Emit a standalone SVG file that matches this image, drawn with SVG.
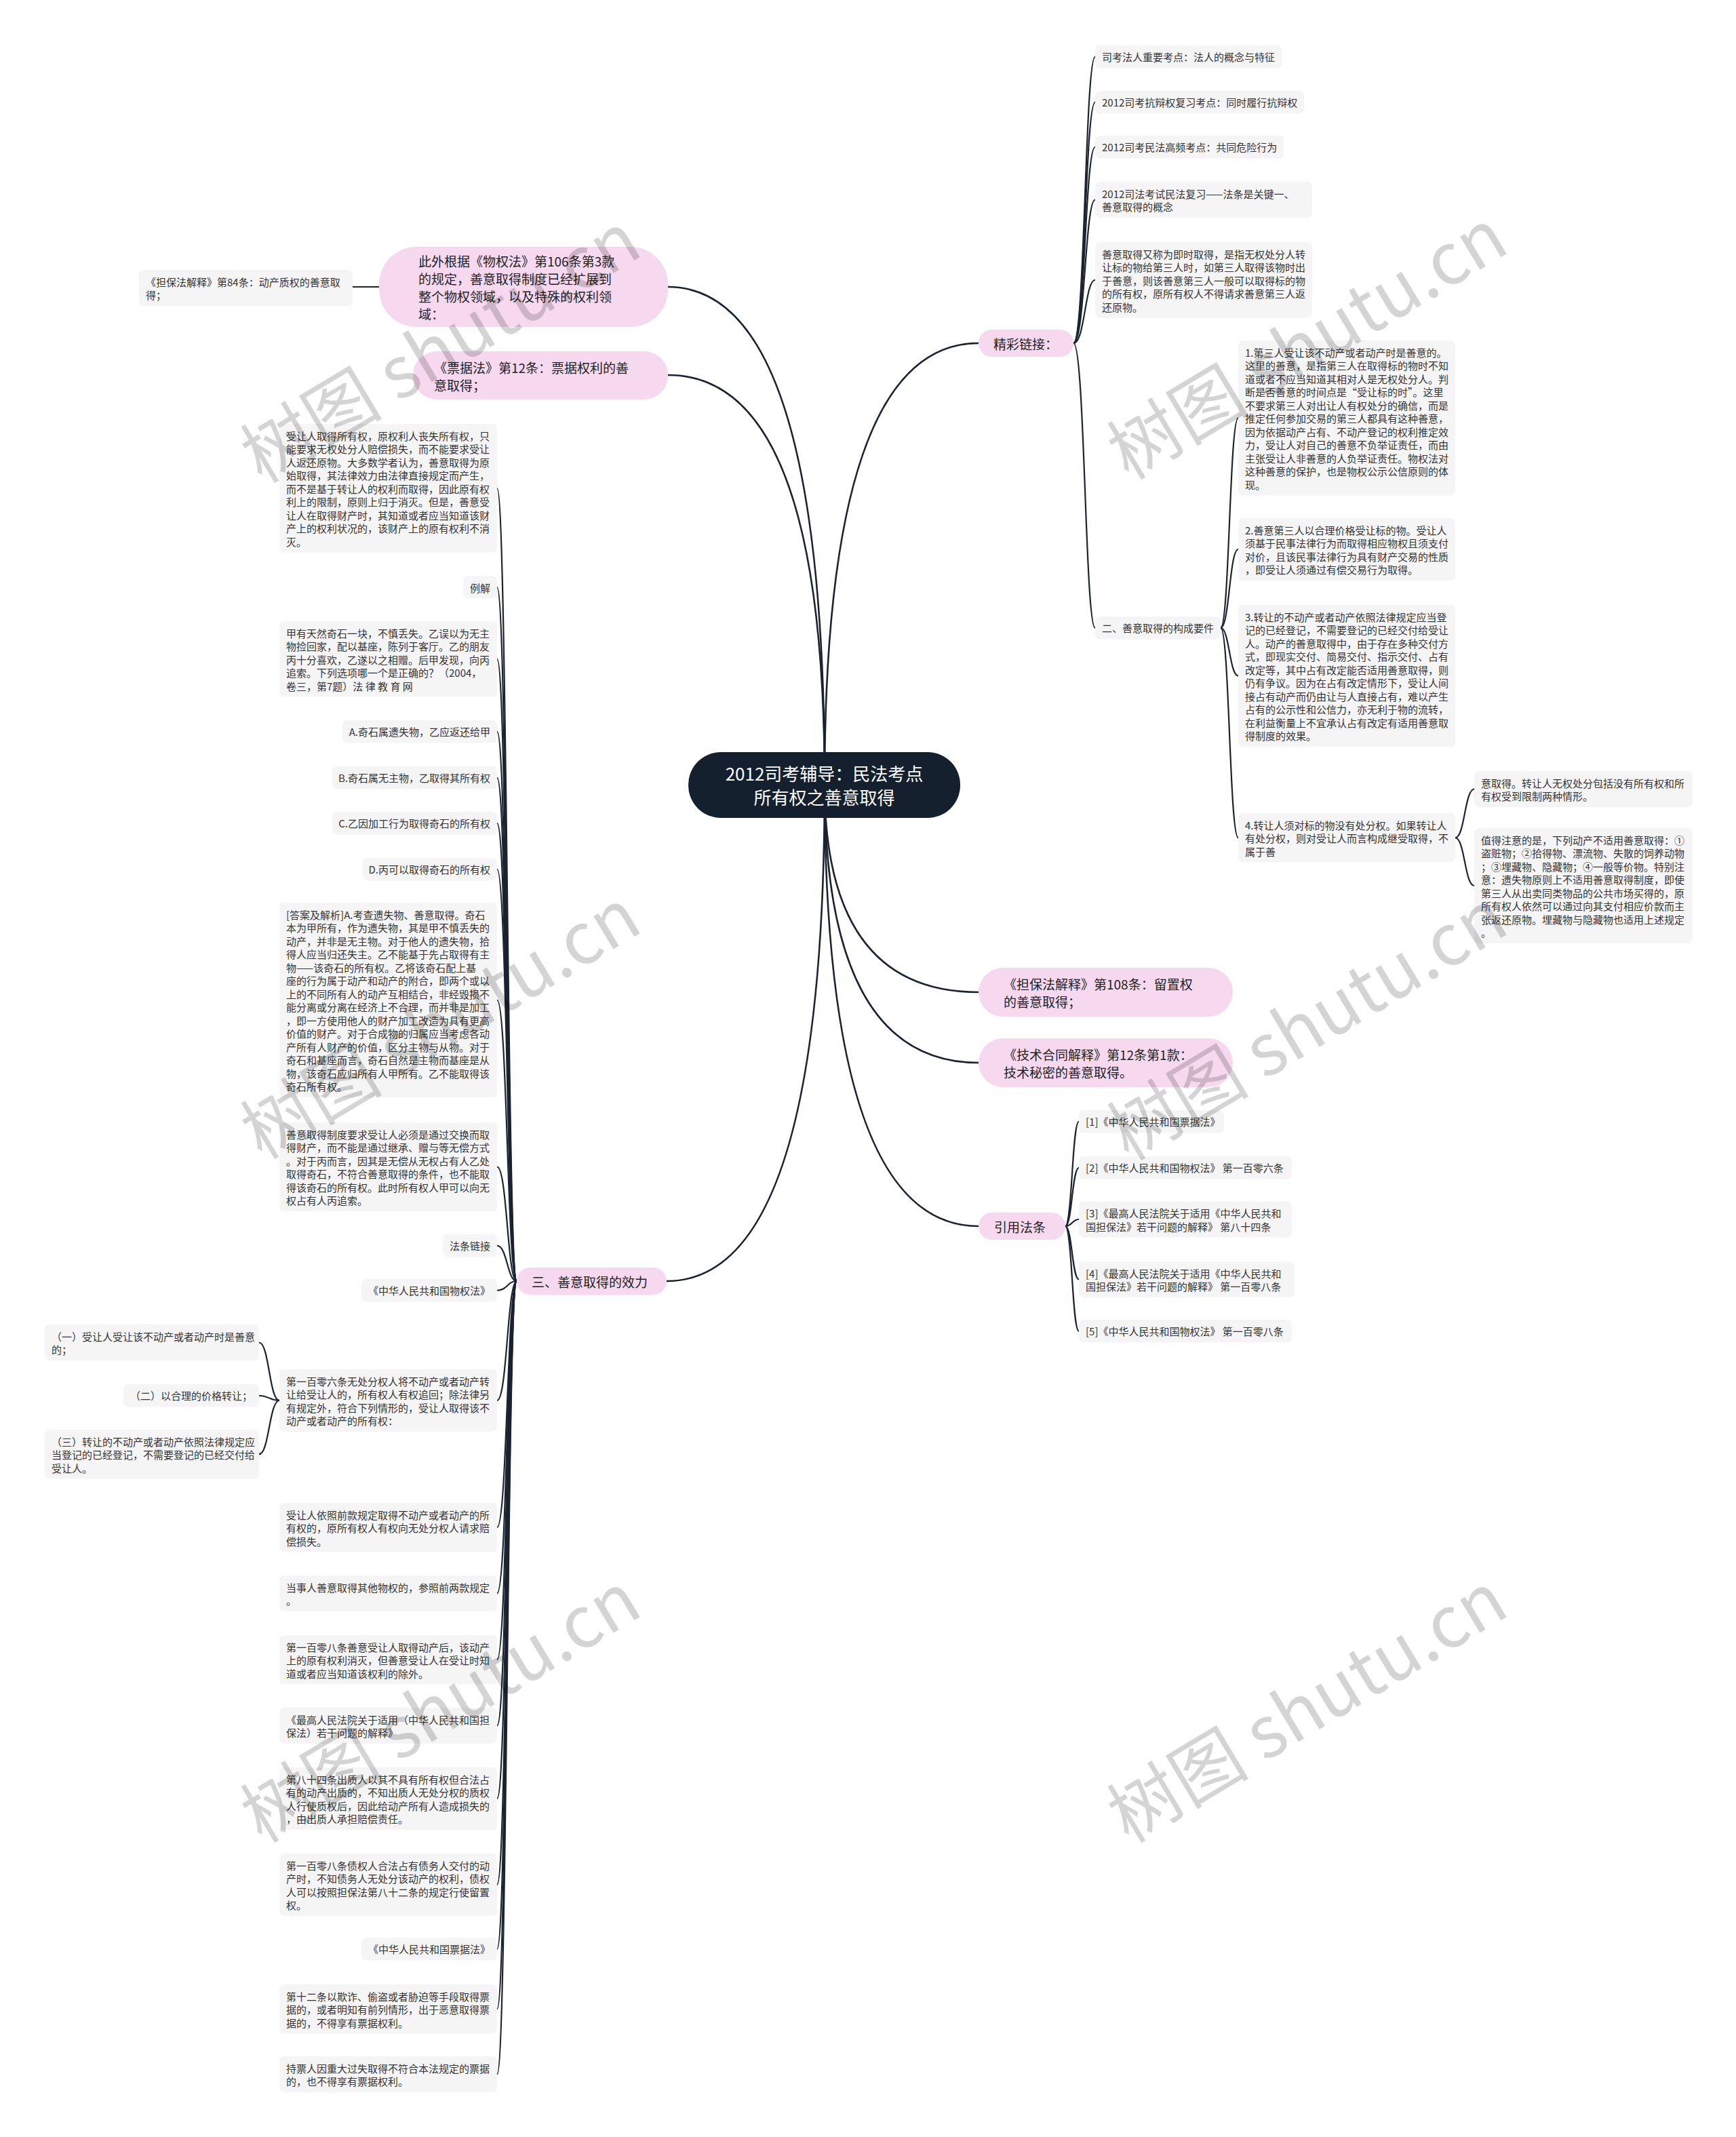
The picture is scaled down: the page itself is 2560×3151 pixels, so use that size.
<svg xmlns="http://www.w3.org/2000/svg" width="2560" height="3151" viewBox="0 0 2560 3151">
<style>
.c{fill:none;stroke:#1b2330;stroke-width:2.2}
.m{fill:none;stroke:#1b2330;stroke-width:2.6}
.b{fill:#f5f5f5}
.p{fill:#f6d9ef}
text{font-family:"Noto Sans CJK SC","Noto Sans",sans-serif;dominant-baseline:central}
.t{font-size:15px;fill:#333}
.r{text-anchor:end}
.pt{font-size:19px;fill:#222}
.ct{font-size:26px;fill:#fff;text-anchor:middle}
.wm{font-size:105px;fill:#000;fill-opacity:0.17;text-anchor:middle}
</style>
<rect width="2560" height="3151" fill="#fff"/>
<g id="connectors">
<path class="m" d="M1216 1156 Q1216 506 1443 506"/>
<path class="m" d="M1216 1156 Q1216 423 985 423"/>
<path class="m" d="M1216 1156 Q1216 553 985 553"/>
<path class="m" d="M1216 1156 Q1216 1463 1443 1463"/>
<path class="m" d="M1216 1156 Q1216 1567 1443 1567"/>
<path class="m" d="M1216 1156 Q1216 1808 1443 1808"/>
<path class="m" d="M1216 1156 Q1216 1889 983 1889"/>
<path class="c" d="M520 423 L559 423"/>
<path class="c" d="M1583 506 C1600 506 1600 83.75 1615 83.75"/>
<path class="c" d="M1583 506 C1600 506 1600 150.75 1615 150.75"/>
<path class="c" d="M1583 506 C1600 506 1600 216.75 1615 216.75"/>
<path class="c" d="M1583 506 C1600 506 1600 294.5 1615 294.5"/>
<path class="c" d="M1583 506 C1600 506 1600 412.75 1615 412.75"/>
<path class="c" d="M1583 506 C1600 506 1600 925.75 1615 925.75"/>
<path class="c" d="M1800 925.75 C1813 925.75 1813 616.25 1826 616.25"/>
<path class="c" d="M1800 925.75 C1813 925.75 1813 810 1826 810"/>
<path class="c" d="M1800 925.75 C1813 925.75 1813 996.5 1826 996.5"/>
<path class="c" d="M1800 925.75 C1813 925.75 1813 1235.25 1826 1235.25"/>
<path class="c" d="M2146 1235.25 C2160 1235.25 2160 1163.5 2174 1163.5"/>
<path class="c" d="M2146 1235.25 C2160 1235.25 2160 1306 2174 1306"/>
<path class="c" d="M1571 1808 C1581 1808 1581 1653.75 1591 1653.75"/>
<path class="c" d="M1571 1808 C1581 1808 1581 1721.75 1591 1721.75"/>
<path class="c" d="M1571 1808 C1581 1808 1581 1798 1591 1798"/>
<path class="c" d="M1571 1808 C1581 1808 1581 1886.5 1591 1886.5"/>
<path class="c" d="M1571 1808 C1581 1808 1581 1962.75 1591 1962.75"/>
<path class="c" d="M762 1889 C748 1889 748 720 733 720"/>
<path class="c" d="M762 1889 C748 1889 748 866 733 866"/>
<path class="c" d="M762 1889 C748 1889 748 971.75 733 971.75"/>
<path class="c" d="M762 1889 C748 1889 748 1078.75 733 1078.75"/>
<path class="c" d="M762 1889 C748 1889 748 1146.75 733 1146.75"/>
<path class="c" d="M762 1889 C748 1889 748 1213.75 733 1213.75"/>
<path class="c" d="M762 1889 C748 1889 748 1281.75 733 1281.75"/>
<path class="c" d="M762 1889 C748 1889 748 1474.5 733 1474.5"/>
<path class="c" d="M762 1889 C748 1889 748 1720.5 733 1720.5"/>
<path class="c" d="M762 1889 C748 1889 748 1836.75 733 1836.75"/>
<path class="c" d="M762 1889 C748 1889 748 1902.75 733 1902.75"/>
<path class="c" d="M762 1889 C748 1889 748 2065 733 2065"/>
<path class="c" d="M762 1889 C748 1889 748 2252.25 733 2252.25"/>
<path class="c" d="M762 1889 C748 1889 748 2349.5 733 2349.5"/>
<path class="c" d="M762 1889 C748 1889 748 2447.25 733 2447.25"/>
<path class="c" d="M762 1889 C748 1889 748 2544.5 733 2544.5"/>
<path class="c" d="M762 1889 C748 1889 748 2652 733 2652"/>
<path class="c" d="M762 1889 C748 1889 748 2779 733 2779"/>
<path class="c" d="M762 1889 C748 1889 748 2873.75 733 2873.75"/>
<path class="c" d="M762 1889 C748 1889 748 2962.25 733 2962.25"/>
<path class="c" d="M762 1889 C748 1889 748 3058.5 733 3058.5"/>
<path class="c" d="M412 2065 C397 2065 397 1979.5 382 1979.5"/>
<path class="c" d="M412 2065 C397 2065 397 2057.75 382 2057.75"/>
<path class="c" d="M412 2065 C397 2065 397 2144.25 382 2144.25"/>
</g>

<g id="root">
<rect x="1015" y="1109" width="401" height="97" rx="48" fill="#14202e"/>
<text class="ct"><tspan x="1215.5" y="1139">2012司考辅导：民法考点</tspan><tspan x="1215.5" y="1174">所有权之善意取得</tspan></text>
</g>

<g id="n-jingcai">
<rect class="p" x="1443" y="486" width="140" height="40" rx="20"/>
<text class="pt" x="1465" y="506">精彩链接：</text>
</g>
<g id="n-r1"><rect class="b" x="1615" y="67" width="275" height="33.5" rx="7"/><text class="t" x="1625" y="83.75">司考法人重要考点：法人的概念与特征</text></g>
<g id="n-r2"><rect class="b" x="1615" y="134" width="308" height="33.5" rx="7"/><text class="t" x="1625" y="150.75">2012司考抗辩权复习考点：同时履行抗辩权</text></g>
<g id="n-r3"><rect class="b" x="1615" y="200" width="278" height="33.5" rx="7"/><text class="t" x="1625" y="216.75">2012司考民法高频考点：共同危险行为</text></g>
<g id="n-r4"><rect class="b" x="1615" y="268" width="320" height="53" rx="7"/><text class="t"><tspan x="1625" y="284.75">2012司法考试民法复习——法条是关键一、</tspan><tspan x="1625" y="304.25">善意取得的概念</tspan></text></g>
<g id="n-r5"><rect class="b" x="1615" y="357" width="320" height="111.5" rx="7"/><text class="t"><tspan x="1625" y="373.75">善意取得又称为即时取得，是指无权处分人转</tspan><tspan x="1625" y="393.25">让标的物给第三人时，如第三人取得该物时出</tspan><tspan x="1625" y="412.75">于善意，则该善意第三人一般可以取得标的物</tspan><tspan x="1625" y="432.25">的所有权，原所有权人不得请求善意第三人返</tspan><tspan x="1625" y="451.75">还原物。</tspan></text></g>
<g id="n-er"><rect class="b" x="1615" y="909" width="185" height="33.5" rx="7"/><text class="t" x="1625" y="925.75">二、善意取得的构成要件</text></g>
<g id="n-d1"><rect class="b" x="1826" y="502" width="320" height="228.5" rx="7"/><text class="t"><tspan x="1836" y="518.75">1.第三人受让该不动产或者动产时是善意的。</tspan><tspan x="1836" y="538.25">这里的善意，是指第三人在取得标的物时不知</tspan><tspan x="1836" y="557.75">道或者不应当知道其相对人是无权处分人。判</tspan><tspan x="1836" y="577.25">断是否善意的时间点是“受让标的时”。这里</tspan><tspan x="1836" y="596.75">不要求第三人对出让人有权处分的确信，而是</tspan><tspan x="1836" y="616.25">推定任何参加交易的第三人都具有这种善意，</tspan><tspan x="1836" y="635.75">因为依据动产占有、不动产登记的权利推定效</tspan><tspan x="1836" y="655.25">力，受让人对自己的善意不负举证责任，而由</tspan><tspan x="1836" y="674.75">主张受让人非善意的人负举证责任。物权法对</tspan><tspan x="1836" y="694.25">这种善意的保护，也是物权公示公信原则的体</tspan><tspan x="1836" y="713.75">现。</tspan></text></g>
<g id="n-d2"><rect class="b" x="1826" y="764" width="320" height="92" rx="7"/><text class="t"><tspan x="1836" y="780.75">2.善意第三人以合理价格受让标的物。受让人</tspan><tspan x="1836" y="800.25">须基于民事法律行为而取得相应物权且须支付</tspan><tspan x="1836" y="819.75">对价，且该民事法律行为具有财产交易的性质</tspan><tspan x="1836" y="839.25">，即受让人须通过有偿交易行为取得。</tspan></text></g>
<g id="n-d3"><rect class="b" x="1826" y="892" width="320" height="209" rx="7"/><text class="t"><tspan x="1836" y="908.75">3.转让的不动产或者动产依照法律规定应当登</tspan><tspan x="1836" y="928.25">记的已经登记，不需要登记的已经交付给受让</tspan><tspan x="1836" y="947.75">人。动产的善意取得中，由于存在多种交付方</tspan><tspan x="1836" y="967.25">式，即现实交付、简易交付、指示交付、占有</tspan><tspan x="1836" y="986.75">改定等，其中占有改定能否适用善意取得，则</tspan><tspan x="1836" y="1006.25">仍有争议。因为在占有改定情形下，受让人间</tspan><tspan x="1836" y="1025.75">接占有动产而仍由让与人直接占有，难以产生</tspan><tspan x="1836" y="1045.25">占有的公示性和公信力，亦无利于物的流转，</tspan><tspan x="1836" y="1064.75">在利益衡量上不宜承认占有改定有适用善意取</tspan><tspan x="1836" y="1084.25">得制度的效果。</tspan></text></g>
<g id="n-d4"><rect class="b" x="1826" y="1199" width="320" height="72.5" rx="7"/><text class="t"><tspan x="1836" y="1215.75">4.转让人须对标的物没有处分权。如果转让人</tspan><tspan x="1836" y="1235.25">有处分权，则对受让人而言构成继受取得，不</tspan><tspan x="1836" y="1254.75">属于善</tspan></text></g>
<g id="n-e1"><rect class="b" x="2174" y="1137" width="322" height="53" rx="7"/><text class="t"><tspan x="2184" y="1153.75">意取得。转让人无权处分包括没有所有权和所</tspan><tspan x="2184" y="1173.25">有权受到限制两种情形。</tspan></text></g>
<g id="n-e2"><rect class="b" x="2174" y="1221" width="322" height="170" rx="7"/><text class="t"><tspan x="2184" y="1237.75">值得注意的是，下列动产不适用善意取得：①</tspan><tspan x="2184" y="1257.25">盗赃物；②拾得物、漂流物、失散的饲养动物</tspan><tspan x="2184" y="1276.75">；③埋藏物、隐藏物；④一般等价物。特别注</tspan><tspan x="2184" y="1296.25">意：遗失物原则上不适用善意取得制度，即使</tspan><tspan x="2184" y="1315.75">第三人从出卖同类物品的公共市场买得的，原</tspan><tspan x="2184" y="1335.25">所有权人依然可以通过向其支付相应价款而主</tspan><tspan x="2184" y="1354.75">张返还原物。埋藏物与隐藏物也适用上述规定</tspan><tspan x="2184" y="1374.25">。</tspan></text></g>

<g id="n-108">
<rect class="p" x="1443" y="1427" width="375" height="72" rx="36"/>
<text class="pt"><tspan x="1480" y="1450">《担保法解释》第108条：留置权</tspan><tspan x="1480" y="1476">的善意取得；</tspan></text>
</g>
<g id="n-jishu">
<rect class="p" x="1443" y="1531" width="375" height="72" rx="36"/>
<text class="pt"><tspan x="1480" y="1554">《技术合同解释》第12条第1款：</tspan><tspan x="1480" y="1580">技术秘密的善意取得。</tspan></text>
</g>
<g id="n-yinyong">
<rect class="p" x="1443" y="1788" width="128" height="40" rx="20"/>
<text class="pt" x="1466" y="1808">引用法条</text>
</g>
<g id="n-f1"><rect class="b" x="1591" y="1637" width="214" height="33.5" rx="7"/><text class="t" x="1601" y="1653.75">[1]《中华人民共和国票据法》</text></g>
<g id="n-f2"><rect class="b" x="1591" y="1705" width="314" height="33.5" rx="7"/><text class="t" x="1601" y="1721.75">[2]《中华人民共和国物权法》 第一百零六条</text></g>
<g id="n-f3"><rect class="b" x="1591" y="1771.5" width="314" height="53" rx="7"/><text class="t"><tspan x="1601" y="1788.25">[3]《最高人民法院关于适用《中华人民共和</tspan><tspan x="1601" y="1807.75">国担保法》若干问题的解释》 第八十四条</tspan></text></g>
<g id="n-f4"><rect class="b" x="1591" y="1860" width="318" height="53" rx="7"/><text class="t"><tspan x="1601" y="1876.75">[4]《最高人民法院关于适用《中华人民共和</tspan><tspan x="1601" y="1896.25">国担保法》若干问题的解释》 第一百零八条</tspan></text></g>
<g id="n-f5"><rect class="b" x="1591" y="1946" width="314" height="33.5" rx="7"/><text class="t" x="1601" y="1962.75">[5]《中华人民共和国物权法》 第一百零八条</text></g>

<g id="n-ciwai">
<rect class="p" x="559" y="364" width="426" height="118" rx="55"/>
<text class="pt"><tspan x="617" y="384">此外根据《物权法》第106条第3款</tspan><tspan x="617" y="410">的规定，善意取得制度已经扩展到</tspan><tspan x="617" y="436">整个物权领域，以及特殊的权利领</tspan><tspan x="617" y="462">域：</tspan></text>
</g>
<g id="n-84"><rect class="b" x="205" y="398" width="315" height="53" rx="7"/><text class="t"><tspan x="215" y="414.75">《担保法解释》第84条：动产质权的善意取</tspan><tspan x="215" y="434.25">得；</tspan></text></g>
<g id="n-piaoju">
<rect class="p" x="609" y="518" width="376" height="71" rx="35"/>
<text class="pt"><tspan x="640" y="540.5">《票据法》第12条：票据权利的善</tspan><tspan x="640" y="566.5">意取得；</tspan></text>
</g>
<g id="n-san">
<rect class="p" x="762" y="1869" width="221" height="40" rx="20"/>
<text class="pt" x="784" y="1889">三、善意取得的效力</text>
</g>

<g id="n-l1"><rect class="b" x="412" y="625" width="321" height="189.5" rx="7"/><text class="t"><tspan x="422" y="641.75">受让人取得所有权，原权利人丧失所有权，只</tspan><tspan x="422" y="661.25">能要求无权处分人赔偿损失，而不能要求受让</tspan><tspan x="422" y="680.75">人返还原物。大多数学者认为，善意取得为原</tspan><tspan x="422" y="700.25">始取得，其法律效力由法律直接规定而产生，</tspan><tspan x="422" y="719.75">而不是基于转让人的权利而取得，因此原有权</tspan><tspan x="422" y="739.25">利上的限制，原则上归于消灭。但是，善意受</tspan><tspan x="422" y="758.75">让人在取得财产时，其知道或者应当知道该财</tspan><tspan x="422" y="778.25">产上的权利状况的，该财产上的原有权利不消</tspan><tspan x="422" y="797.75">灭。</tspan></text></g>
<g id="n-l2"><rect class="b" x="683" y="849.25" width="50" height="33.5" rx="7"/><text class="t r" x="723" y="866">例解</text></g>
<g id="n-l3"><rect class="b" x="412" y="916" width="321" height="111.5" rx="7"/><text class="t"><tspan x="422" y="932.75">甲有天然奇石一块，不慎丢失。乙误以为无主</tspan><tspan x="422" y="952.25">物捡回家，配以基座，陈列于客厅。乙的朋友</tspan><tspan x="422" y="971.75">丙十分喜欢，乙遂以之相赠。后甲发现，向丙</tspan><tspan x="422" y="991.25">追索。下列选项哪一个是正确的？（2004，</tspan><tspan x="422" y="1010.75">卷三，第7题）法 律 教 育 网</tspan></text></g>
<g id="n-lA"><rect class="b" x="505" y="1062" width="228" height="33.5" rx="7"/><text class="t r" x="723" y="1078.75">A.奇石属遗失物，乙应返还给甲</text></g>
<g id="n-lB"><rect class="b" x="490" y="1130" width="243" height="33.5" rx="7"/><text class="t r" x="723" y="1146.75">B.奇石属无主物，乙取得其所有权</text></g>
<g id="n-lC"><rect class="b" x="490" y="1197" width="243" height="33.5" rx="7"/><text class="t r" x="723" y="1213.75">C.乙因加工行为取得奇石的所有权</text></g>
<g id="n-lD"><rect class="b" x="535" y="1265" width="198" height="33.5" rx="7"/><text class="t r" x="723" y="1281.75">D.丙可以取得奇石的所有权</text></g>
<g id="n-l4"><rect class="b" x="412" y="1331" width="321" height="287" rx="7"/><text class="t"><tspan x="422" y="1347.75">[答案及解析]A.考查遗失物、善意取得。奇石</tspan><tspan x="422" y="1367.25">本为甲所有，作为遗失物，其是甲不慎丢失的</tspan><tspan x="422" y="1386.75">动产，并非是无主物。对于他人的遗失物，拾</tspan><tspan x="422" y="1406.25">得人应当归还失主。乙不能基于先占取得有主</tspan><tspan x="422" y="1425.75">物——该奇石的所有权。乙将该奇石配上基</tspan><tspan x="422" y="1445.25">座的行为属于动产和动产的附合，即两个或以</tspan><tspan x="422" y="1464.75">上的不同所有人的动产互相结合，非经毁损不</tspan><tspan x="422" y="1484.25">能分离或分离在经济上不合理，而并非是加工</tspan><tspan x="422" y="1503.75">，即一方使用他人的财产加工改造为具有更高</tspan><tspan x="422" y="1523.25">价值的财产。对于合成物的归属应当考虑各动</tspan><tspan x="422" y="1542.75">产所有人财产的价值，区分主物与从物。对于</tspan><tspan x="422" y="1562.25">奇石和基座而言，奇石自然是主物而基座是从</tspan><tspan x="422" y="1581.75">物，该奇石应归所有人甲所有。乙不能取得该</tspan><tspan x="422" y="1601.25">奇石所有权。</tspan></text></g>
<g id="n-l5"><rect class="b" x="412" y="1655" width="321" height="131" rx="7"/><text class="t"><tspan x="422" y="1671.75">善意取得制度要求受让人必须是通过交换而取</tspan><tspan x="422" y="1691.25">得财产，而不能是通过继承、赠与等无偿方式</tspan><tspan x="422" y="1710.75">。对于丙而言，因其是无偿从无权占有人乙处</tspan><tspan x="422" y="1730.25">取得奇石，不符合善意取得的条件，也不能取</tspan><tspan x="422" y="1749.75">得该奇石的所有权。此时所有权人甲可以向无</tspan><tspan x="422" y="1769.25">权占有人丙追索。</tspan></text></g>
<g id="n-l6"><rect class="b" x="653" y="1820" width="80" height="33.5" rx="7"/><text class="t r" x="723" y="1836.75">法条链接</text></g>
<g id="n-l7"><rect class="b" x="533" y="1886" width="200" height="33.5" rx="7"/><text class="t r" x="723" y="1902.75">《中华人民共和国物权法》</text></g>
<g id="n-l8"><rect class="b" x="412" y="2019" width="321" height="92" rx="7"/><text class="t"><tspan x="422" y="2035.75">第一百零六条无处分权人将不动产或者动产转</tspan><tspan x="422" y="2055.25">让给受让人的，所有权人有权追回；除法律另</tspan><tspan x="422" y="2074.75">有规定外，符合下列情形的，受让人取得该不</tspan><tspan x="422" y="2094.25">动产或者动产的所有权：</tspan></text></g>
<g id="n-k1"><rect class="b" x="66" y="1953" width="316" height="53" rx="7"/><text class="t"><tspan x="76" y="1969.75">（一）受让人受让该不动产或者动产时是善意</tspan><tspan x="76" y="1989.25">的；</tspan></text></g>
<g id="n-k2"><rect class="b" x="182" y="2041" width="200" height="33.5" rx="7"/><text class="t r" x="372" y="2057.75">（二）以合理的价格转让；</text></g>
<g id="n-k3"><rect class="b" x="66" y="2108" width="316" height="72.5" rx="7"/><text class="t"><tspan x="76" y="2124.75">（三）转让的不动产或者动产依照法律规定应</tspan><tspan x="76" y="2144.25">当登记的已经登记，不需要登记的已经交付给</tspan><tspan x="76" y="2163.75">受让人。</tspan></text></g>
<g id="n-l9"><rect class="b" x="412" y="2216" width="321" height="72.5" rx="7"/><text class="t"><tspan x="422" y="2232.75">受让人依照前款规定取得不动产或者动产的所</tspan><tspan x="422" y="2252.25">有权的，原所有权人有权向无处分权人请求赔</tspan><tspan x="422" y="2271.75">偿损失。</tspan></text></g>
<g id="n-l10"><rect class="b" x="412" y="2323" width="321" height="53" rx="7"/><text class="t"><tspan x="422" y="2339.75">当事人善意取得其他物权的，参照前两款规定</tspan><tspan x="422" y="2359.25">。</tspan></text></g>
<g id="n-l11"><rect class="b" x="412" y="2411" width="321" height="72.5" rx="7"/><text class="t"><tspan x="422" y="2427.75">第一百零八条善意受让人取得动产后，该动产</tspan><tspan x="422" y="2447.25">上的原有权利消灭，但善意受让人在受让时知</tspan><tspan x="422" y="2466.75">道或者应当知道该权利的除外。</tspan></text></g>
<g id="n-l12"><rect class="b" x="412" y="2518" width="321" height="53" rx="7"/><text class="t"><tspan x="422" y="2534.75">《最高人民法院关于适用（中华人民共和国担</tspan><tspan x="422" y="2554.25">保法）若干问题的解释》</tspan></text></g>
<g id="n-l13"><rect class="b" x="412" y="2606" width="321" height="92" rx="7"/><text class="t"><tspan x="422" y="2622.75">第八十四条出质人以其不具有所有权但合法占</tspan><tspan x="422" y="2642.25">有的动产出质的，不知出质人无处分权的质权</tspan><tspan x="422" y="2661.75">人行使质权后，因此给动产所有人造成损失的</tspan><tspan x="422" y="2681.25">，由出质人承担赔偿责任。</tspan></text></g>
<g id="n-l14"><rect class="b" x="412" y="2733" width="321" height="92" rx="7"/><text class="t"><tspan x="422" y="2749.75">第一百零八条债权人合法占有债务人交付的动</tspan><tspan x="422" y="2769.25">产时，不知债务人无处分该动产的权利，债权</tspan><tspan x="422" y="2788.75">人可以按照担保法第八十二条的规定行使留置</tspan><tspan x="422" y="2808.25">权。</tspan></text></g>
<g id="n-l15"><rect class="b" x="533" y="2857" width="200" height="33.5" rx="7"/><text class="t r" x="723" y="2873.75">《中华人民共和国票据法》</text></g>
<g id="n-l16"><rect class="b" x="412" y="2926" width="321" height="72.5" rx="7"/><text class="t"><tspan x="422" y="2942.75">第十二条以欺诈、偷盗或者胁迫等手段取得票</tspan><tspan x="422" y="2962.25">据的，或者明知有前列情形，出于恶意取得票</tspan><tspan x="422" y="2981.75">据的，不得享有票据权利。</tspan></text></g>
<g id="n-l17"><rect class="b" x="412" y="3032" width="321" height="53" rx="7"/><text class="t"><tspan x="422" y="3048.75">持票人因重大过失取得不符合本法规定的票据</tspan><tspan x="422" y="3068.25">的，也不得享有票据权利。</tspan></text></g>

<g id="watermark">
<text class="wm" transform="translate(645 505) rotate(-31)">树图 shutu.cn</text>
<text class="wm" transform="translate(1923 500) rotate(-31)">树图 shutu.cn</text>
<text class="wm" transform="translate(645 1502) rotate(-31)">树图 shutu.cn</text>
<text class="wm" transform="translate(1923 1504) rotate(-31)">树图 shutu.cn</text>
<text class="wm" transform="translate(645 2510) rotate(-31)">树图 shutu.cn</text>
<text class="wm" transform="translate(1923 2510) rotate(-31)">树图 shutu.cn</text>
</g>
</svg>
